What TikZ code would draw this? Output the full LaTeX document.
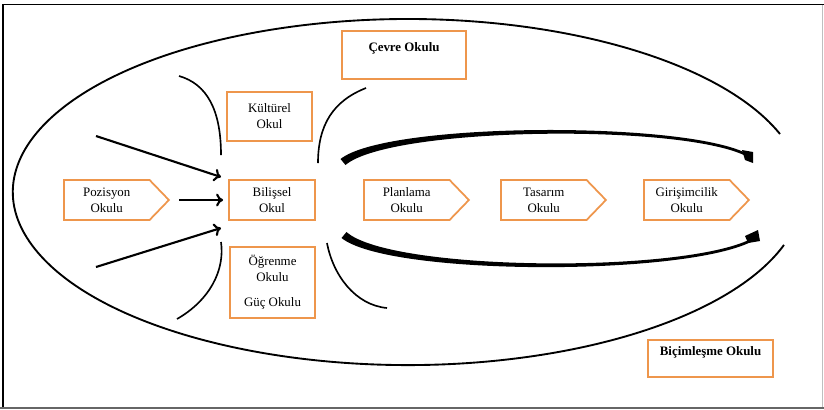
\documentclass[tikz,border=0pt]{standalone}
\usepackage{fontspec}
\setmainfont{Liberation Serif}
\usetikzlibrary{shapes.symbols,arrows.meta}
\definecolor{boxorange}{RGB}{238,150,76}
\begin{document}
\begin{tikzpicture}
        [x=0.03cm,y=-0.03cm,
        font=\fontsize{11}{13.6}\selectfont,
        box/.style={draw=boxorange,line width=1.5pt,align=center,inner sep=1pt},
        arrowbox/.style={box,signal,signal to=east,signal pointer angle=92,
            minimum width=3.15cm,minimum height=1.2cm,anchor=west},
        arr/.style={line width=1.8pt,-{To[length=6pt,width=11pt]}},
        bow/.style={line width=1.4pt},
        brush/.style={fill=black}]
    \useasboundingbox (0,0) rectangle (824,409);
    \draw[line width=1.4pt] (3,409) -- (3,4.5) -- (824,4.5);
    \draw[black!25,line width=0.6pt] (822,4.5) -- (822,408);
    \draw[black!60,line width=1.2pt] (0,408) -- (824,408);
    \coordinate (ring) at (780,134);
    \draw[line width=1.6pt] (ring) arc[start angle=19.6,end angle=342.2,
        x radius=11.85cm,y radius=5.19cm];
    \node[box,minimum width=3.72cm,minimum height=1.44cm] (cevre) at (404,55)
        {\textbf{Çevre Okulu}\\\mbox{}};
    \node[box,minimum width=2.55cm,minimum height=1.47cm] (kultur) at (269.5,116.5)
        {Kültürel\\Okul};
    \node[box,minimum width=2.58cm,minimum height=1.2cm] (bilis) at (272,200)
        {Bilişsel\\Okul};
    \node[box,minimum width=2.55cm,minimum height=2.13cm] (ogren) at (272.5,282.5)
        {Öğrenme\\Okulu\\[8pt]Güç Okulu};
    \node[box,minimum width=3.75cm,minimum height=1.11cm] (bicim) at (710.5,358.5)
        {\textbf{Biçimleşme Okulu}\\\mbox{}};
    \node[arrowbox] (pozis) at (63,200) {Pozisyon\\Okulu};
    \node[arrowbox] (planl) at (363,200) {Planlama\\Okulu};
    \node[arrowbox] (tasar) at (500,200) {Tasarım\\Okulu};
    \node[arrowbox] (giris) at (643,200) {Girişimcilik\\Okulu};
    \coordinate (up) at (96,136);
    \coordinate (upend) at (221,177);
    \coordinate (down) at (96,267);
    \coordinate (downend) at (221,228);
    \draw[arr] (up) -- (upend);
    \draw[arr,shorten <=0.27cm,shorten >=0.15cm] (pozis.east) -- (bilis.west);
    \draw[arr] (down) -- (downend);
    \draw[bow] (179,76) .. controls (207,84) and (221,110) .. (221,155);
    \draw[bow] (366,88) .. controls (333,101) and (318,125) .. (318,163);
    \draw[bow] (221,242) .. controls (225,270) and (210,300) .. (177,319);
    \draw[bow] (327,243) .. controls (333,275) and (355,305) .. (387,308);
    \fill[brush] (340.5,159) .. controls (388,121) and (700,120.5) .. (752,156.5)
        -- (752,159.5) .. controls (700,123) and (392,125.5) .. (345.5,165) -- cycle;
    \fill[brush] (742,150) -- (753,152) -- (753,163) -- (745,160) -- cycle;
    \fill[brush] (346.5,232) .. controls (392,272.5) and (700,274) .. (757,235.5)
        -- (757,238.5) .. controls (700,276.5) and (390,277) .. (341.5,238) -- cycle;
    \fill[brush] (745,236) -- (758,230) -- (760,241) -- (748,243) -- cycle;
\end{tikzpicture}
\end{document}
